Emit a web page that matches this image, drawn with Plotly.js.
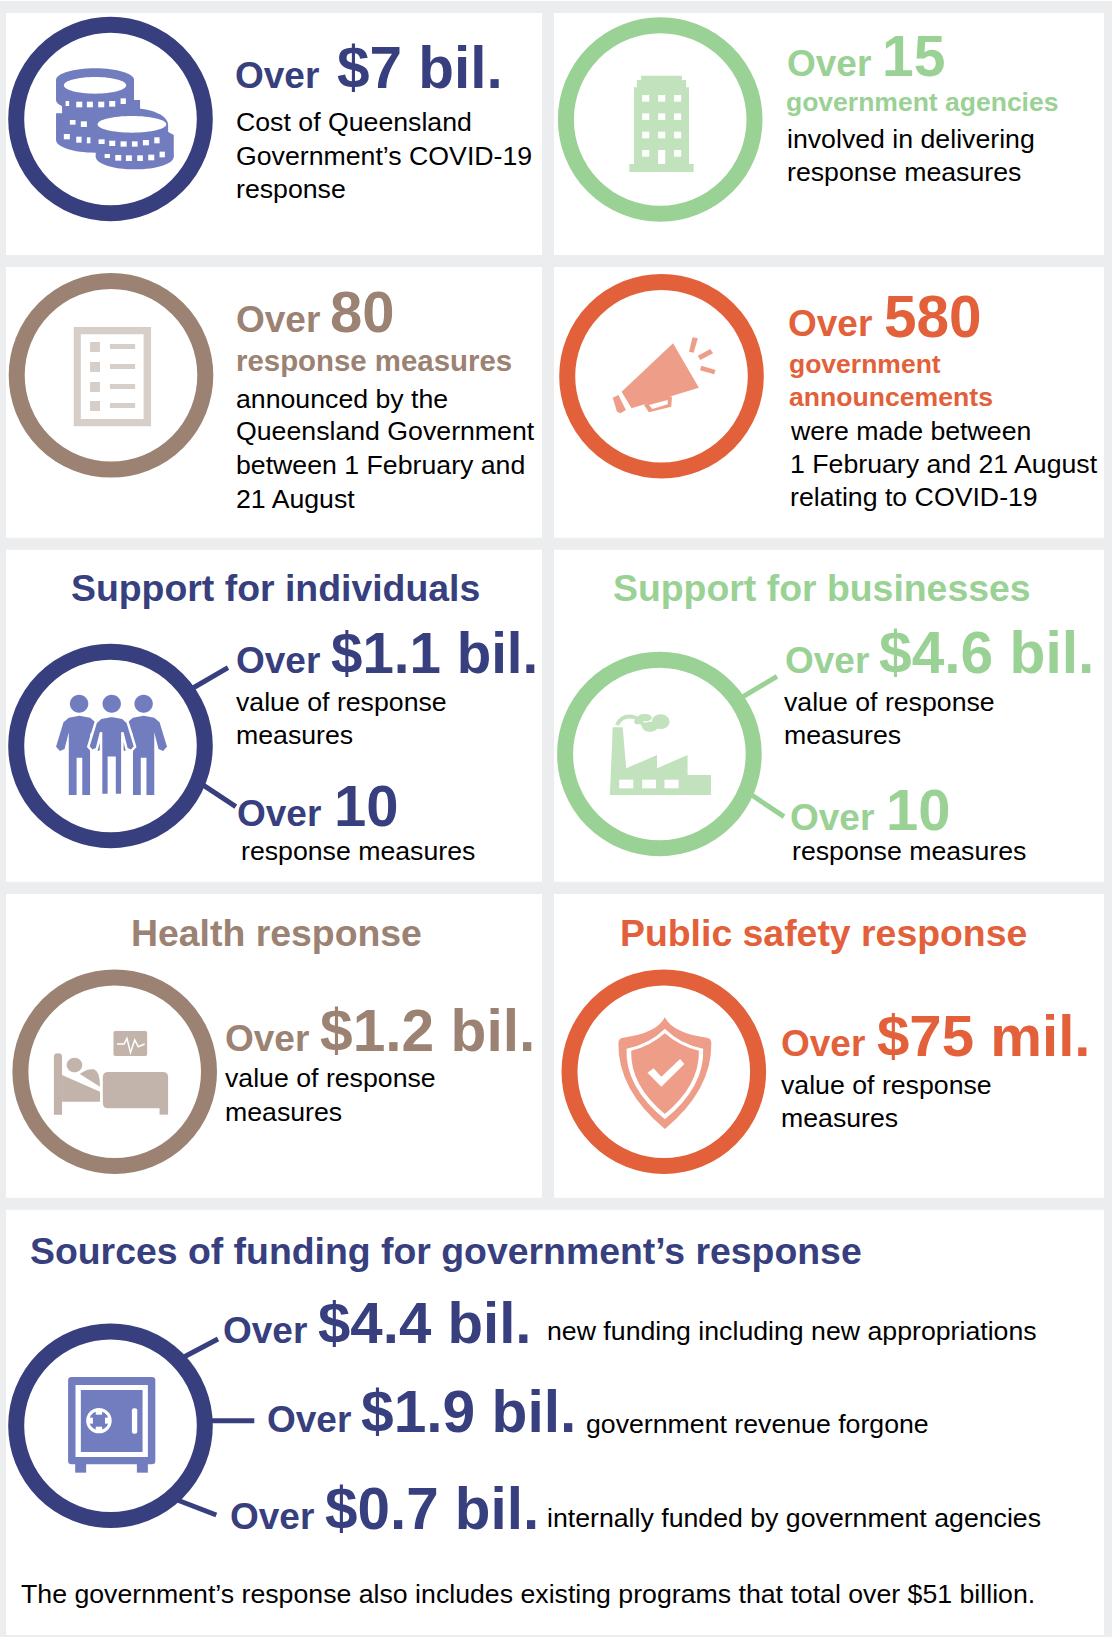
<!DOCTYPE html>
<html><head><meta charset="utf-8">
<script src="https://cdn.plot.ly/plotly-3.0.1.min.js"></script>
<style>html,body{margin:0;padding:0;background:#ECEDEF}#g{width:1112px;height:1637px}</style>
</head><body><div id="g"></div>
<script>
/* ---------- content ---------- */
const panelTitles = ['Support for individuals','Support for businesses','Health response','Public safety response','Sources of funding for government\u2019s response'];
const overWord = 'Over';
const headlineValues = ['$7 bil.','15','80','580','$1.1 bil.','10','$4.6 bil.','10','$1.2 bil.','$75 mil.','$4.4 bil.','$1.9 bil.','$0.7 bil.'];
const subheads = ['government agencies','response measures','government','announcements'];
const bodyLines = ['Cost of Queensland','Government\u2019s COVID-19','response',
  'involved in delivering','response measures',
  'announced by the','Queensland Government','between 1 February and','21 August',
  'were made between','1 February and 21 August','relating to COVID-19',
  'value of response','measures','response measures',
  'value of response','measures','response measures',
  'value of response','measures',
  'value of response','measures',
  'new funding including new appropriations','government revenue forgone','internally funded by government agencies',
  'The government\u2019s response also includes existing programs that total over $51 billion.'];

/* ---------- layout tables ---------- */
const NAVY='#373F7E',GREEN='#9AD194',BROWN='#9B8272',ORANGE='#E2613A';
const ICON_N='#727DC0',ICON_G='#C1E2BC',ICON_B='#C2B4AA',ICON_O='#EE9D88';
const GREY='#ECEDEF';
const headlineColours=[NAVY,GREEN,BROWN,ORANGE,NAVY,NAVY,GREEN,GREEN,BROWN,ORANGE,NAVY,NAVY,NAVY];
const overPos=[[234.8,88.7],[787.3,76],[235.9,332.7],[788,336.7],[236,673.7],[237.3,826],[784.8,673.7],[790,830.3],[225.2,1051.7],[781.2,1056.7],[223,1343.3],[266.7,1432.7],[230.2,1529.3]];
const valuePos=[[337,87.7],[882,76],[330.4,331.4],[883.8,337],[330.6,672.7],[333.8,826],[879.4,672.7],[886,829.3],[320.2,1050.7],[876.8,1055.7],[318.2,1342.3],[361,1431.7],[325.2,1528.3]];
const valueSizes=[58.5,57,58,58.5,56.5,58,58.7,58,58.7,58.2,58.2,58.7,58.4];
const titlePos=[[275.4,601,'center'],[822.3,601,'center'],[276.4,946,'center'],[823.4,946,'center'],[30.2,1264.3,'left']];
const titleColours=[NAVY,GREEN,BROWN,ORANGE,NAVY];
const subPos=[[785.5,110.7],[236.2,370.5],[789,373.3],[789,406.3]];
const subSizes=[26.5,29.4,26.5,26.6];
const subColours=[GREEN,BROWN,ORANGE,ORANGE];
const bodyPos=[[236.4,131.7],[236.4,165.7],[236.4,198],[787,148.3],[787,181],
  [236,408.7],[236,440.3],[236,474.7],[236,508.7],
  [790,440],[790,473],[790,506.7],
  [236,711.7],[236,744.7],[240.8,860.7],
  [784.2,711.7],[784.2,744.7],[791.8,860.7],
  [225.4,1087.7],[225.4,1121.7],[781.4,1094.3],[781.4,1127.7],
  [547,1340],[585.6,1433.7],[547,1527.7],[21,1603.3]];
const panels=[[6,13,542,255],[554,13,1104,255],[6,267,542,537.7],[554,267,1104,537.7],[6,549.7,542,881.7],[554,549.7,1104,881.7],[6,894,542,1197.7],[554,894,1104,1197.7],[6,1209.7,1104,1635]];
const ringX=[110.5,660.2,111,661.5,110.5,659.4,114.7,663.8,110.5];
const ringY=[119,119.5,375.3,376.2,746,754,1071.7,1071.7,1425.7];
const ringColours=[NAVY,GREEN,BROWN,ORANGE,NAVY,GREEN,BROWN,ORANGE,NAVY];
const connectors=[[193,688,228,667.7,NAVY],[204,785.7,235.8,806.7,NAVY],[743,696.7,777,676.3,GREEN],[751.7,795,784,816.7,GREEN],[184.4,1356.7,218,1339,NAVY],[211.7,1420.7,254.3,1420.7,NAVY],[177.3,1500,216.3,1515,NAVY]];

/* ---------- helpers ---------- */
const FONT='"Liberation Sans", Arial, sans-serif';
function T(text,pos,size,color,bold,anchor){
  return {xref:'x',yref:'y',x:pos[0],y:pos[1]-0.3465*size,text:text,showarrow:false,
    xanchor:anchor||'left',yanchor:'middle',borderpad:0,borderwidth:0,
    font:{family:FONT,size:size,color:color,weight:bold?700:400}};
}
const annotations=[];
overPos.forEach((p,i)=>annotations.push(T(overWord,p,37,headlineColours[i],true)));
headlineValues.forEach((v,i)=>annotations.push(T(v,valuePos[i],valueSizes[i],headlineColours[i],true)));
panelTitles.forEach((t,i)=>annotations.push(T(t,titlePos[i],37.4,titleColours[i],true,titlePos[i][2])));
subheads.forEach((t,i)=>annotations.push(T(t,subPos[i],subSizes[i],subColours[i],true)));
bodyLines.forEach((t,i)=>annotations.push(T(t,bodyPos[i],26.7,'#000000',false)));

const shapes=[];
shapes.push({type:'rect',xref:'x',yref:'y',x0:0,x1:1112,y0:0,y1:1,fillcolor:'#FFFFFF',line:{width:0},layer:'below'});
panels.forEach(p=>shapes.push({type:'rect',xref:'x',yref:'y',x0:p[0],y0:p[1],x1:p[2],y1:p[3],fillcolor:'#FFFFFF',line:{width:0},layer:'below'}));
connectors.forEach(c=>shapes.push({type:'line',xref:'x',yref:'y',x0:c[0],y0:c[1],x1:c[2],y1:c[3],line:{color:c[4],width:5},layer:'below'}));

/* icon drawing: outlines are sketched in a per-panel grid of 2.82 x 3 units per pixel */
function E(cx,cy,rx,ry){const k=.5523;
  return `M${cx-rx},${cy} C${cx-rx},${cy-k*ry} ${cx-k*rx},${cy-ry} ${cx},${cy-ry} C${cx+k*rx},${cy-ry} ${cx+rx},${cy-k*ry} ${cx+rx},${cy} C${cx+rx},${cy+k*ry} ${cx+k*rx},${cy+ry} ${cx},${cy+ry} C${cx-k*rx},${cy+ry} ${cx-rx},${cy+k*ry} ${cx-rx},${cy} Z`;}
function R(a,b,c,d){return `M${a},${b} L${c},${b} L${c},${d} L${a},${d} Z`;}
function RR(a,b,c,d,r){return `M${a+r},${b} L${c-r},${b} Q${c},${b} ${c},${b+r} L${c},${d-r} Q${c},${d} ${c-r},${d} L${a+r},${d} Q${a},${d} ${a},${d-r} L${a},${b+r} Q${a},${b} ${a+r},${b} Z`;}
function PG(pts){return 'M'+pts.map(p=>p[0]+','+p[1]).join(' L')+' Z';}
function icon(ox,oy,path,fill,stroke,sw,open){
  const d=path.replace(/(-?[\d.]+),(-?[\d.]+)/g,(m,a,b)=>(ox+a/2.82).toFixed(2)+','+(oy+b/3).toFixed(2));
  shapes.push({type:'path',xref:'x',yref:'y',path:d,fillcolor:open?'rgba(0,0,0,0)':fill,line:{color:stroke||fill,width:sw||0},layer:'above'});
}
const W='#FFFFFF';
/* coins */
(function(){const c=ICON_N;
  const f=(p,col)=>icon(0,0,p,col);
  f(E(268,420,110,38),c); f(R(158,340,378,420),c); f(R(175,300,395,360),c);
  f(E(268,240,110,35),c); f(R(158,240,378,300),c); f(E(268,300,110,35),c);
  f(E(372,375,102,50),c); f(R(270,375,474,420),c); f(PG([[455,385],[490,405],[490,470],[270,470],[270,420]]),c);
  f(E(380,470,110,38),c);
  f(E(268,256,88,25),W); f(E(372,373,97,25),W);
  [[185,303,195,318],[215,305,232,322],[245,305,262,322],[277,305,294,322],[308,303,325,320],[340,295,355,312],
   [197,360,213,374],[228,364,245,381],[180,402,197,418],[215,410,230,428],[245,412,255,430],
   [278,418,295,432],[308,422,325,438],[340,424,357,440],[372,424,388,440],[403,420,420,436],[435,412,450,430],
   [295,462,310,474],[325,465,342,482],[355,466,372,483],[387,466,403,483],[418,464,435,481],[450,455,465,472]
  ].forEach(r=>f(R(...r),W));
})();
/* building */
(function(){const o=[556,0];
  icon(o[0],o[1],PG([[240,227],[355,227],[355,240],[367,240],[367,262],[375,262],[375,492],[388,492],[388,516],[207,516],[207,492],[220,492],[220,262],[228,262],[228,240],[240,240]]),ICON_G);
  [285,340,395,450].forEach(y=>[243,288,333].forEach(x=>icon(o[0],o[1],R(x,y,x+20,(x===288&&y===450)?492:y+20),W)));
})();
/* list */
(function(){const o=[0,265],c='#D6CEC8';
  icon(o[0],o[1],R(208,186,426,484),c); icon(o[0],o[1],R(228,208,405,462),W);
  [231,291,351,408].forEach(y=>{icon(o[0],o[1],R(254,y,282,y+30),c);icon(o[0],o[1],R(310,y+6,381,y+21),c);});
})();
/* megaphone */
(function(){const o=[556,265],c=ICON_O;
  icon(o[0],o[1],PG([[248,420],[262,442],[325,425],[327,395],[300,390]]),c);
  icon(o[0],o[1],PG([[262,420],[272,432],[315,418],[315,405]]),W);
  icon(o[0],o[1],PG([[185,380],[330,235],[403,368],[213,430]]),c);
  icon(o[0],o[1],PG([[160,398],[176,390],[197,435],[182,445],[172,440]]),c);
  icon(o[0],o[1],PG([[385,217],[400,220],[388,263],[375,260]]),c);
  icon(o[0],o[1],PG([[400,272],[435,252],[443,265],[407,285]]),c);
  icon(o[0],o[1],PG([[410,302],[450,315],[446,328],[406,316]]),c);
})();
/* people */
(function(){const o=[0,545],c=ICON_N;
  const body=[[0,512],[30,518],[45,532],[66,605],[55,618],[42,612],[30,562],[30,750],[8,750],[8,638],[-8,638],[-8,750],[-30,750],[-30,562],[-42,612],[-55,618],[-66,605],[-45,532],[-30,518]];
  const fig=(cx,s,sw)=>{icon(o[0],o[1],PG(body.map(p=>[cx+p[0],p[1]])),c,s,sw);};
  fig(224,c,0);fig(405,c,0);fig(315,W,2.5);
  [223,315,405].forEach(x=>icon(o[0],o[1],E(x,476,26,27),c));
})();
/* factory */
(function(){const o=[556,545],c=ICON_G;
  icon(o[0],o[1],PG([[152,750],[160,547],[188,547],[198,670],[285,630],[285,670],[371,630],[371,690],[437,690],[437,750]]),c);
  [[178,218],[243,282],[306,346]].forEach(r=>icon(o[0],o[1],R(r[0],704,r[1],730),W));
  icon(o[0],o[1],'M172,540 Q185,510 215,515 Q235,520 250,545',c,c,4,true);
  icon(o[0],o[1],E(265,545,22,15),c);icon(o[0],o[1],E(295,530,25,22),c);icon(o[0],o[1],E(250,518,20,11),c);icon(o[0],o[1],E(232,530,12,8),c);
})();
/* bed */
(function(){const o=[0,890],c=ICON_B;
  icon(o[0],o[1],RR(320,423,415,498,5),c);
  icon(o[0],o[1],'M330,462 L350,462 L358,445 L368,488 L380,450 L390,470 L408,462',W,W,1.5,true);
  icon(o[0],o[1],'M152,674 L152,500 Q152,490 163,490 Q175,490 175,500 L175,674 Z',c);
  icon(o[0],o[1],PG([[175,555],[282,605],[282,635],[175,635]]),c);
  icon(o[0],o[1],E(210,525,22,22),c);
  icon(o[0],o[1],'M225,552 Q245,535 265,538 Q282,545 282,590 Z',c);
  icon(o[0],o[1],RR(290,546,474,655,15),c);
  icon(o[0],o[1],R(450,640,474,674),c);
})();
/* shield */
(function(){const o=[556,890],c=ICON_O;
  icon(o[0],o[1],'M307,382 Q330,430 425,443 Q438,445 438,460 Q440,600 307,717 Q174,600 176,460 Q176,445 189,443 Q284,430 307,382 Z',c);
  icon(o[0],o[1],'M307,416 Q350,462 415,476 Q420,590 307,688 Q194,590 199,476 Q264,462 307,416 Z',W);
  icon(o[0],o[1],'M307,430 Q350,470 403,482 Q405,585 307,672 Q209,585 212,482 Q264,470 307,430 Z',c);
  icon(o[0],o[1],PG([[258,548],[275,535],[297,560],[350,507],[362,522],[297,590]]),W);
})();
/* safe */
(function(){const o=[0,1205],c=ICON_N;
  icon(o[0],o[1],R(212,770,243,803),c);icon(o[0],o[1],R(386,770,417,803),c);
  icon(o[0],o[1],RR(192,516,438,778,10),c);
  icon(o[0],o[1],R(213,540,417,756),W);
  icon(o[0],o[1],R(228,555,402,741),c);
  icon(o[0],o[1],E(279,647,36,38),W);
  icon(o[0],o[1],E(279,647,27,28),c);
  icon(o[0],o[1],R(270,617,288,629),W);icon(o[0],o[1],R(270,665,288,677),W);
  icon(o[0],o[1],R(250,638,262,656),W);icon(o[0],o[1],R(296,638,308,656),W);
  icon(o[0],o[1],RR(372,610,387,686,6),W);
})();

/* ---------- figure ---------- */
const rings={type:'scatter',mode:'markers',x:ringX,y:ringY,hoverinfo:'skip',showlegend:false,cliponaxis:false,
  marker:{symbol:'circle',size:188.6,color:'#FFFFFF',line:{color:ringColours,width:16}}};
const layout={width:1112,height:1637,margin:{l:0,r:0,t:0,b:0},paper_bgcolor:GREY,plot_bgcolor:GREY,showlegend:false,
  xaxis:{range:[0,1112],visible:false,fixedrange:true},
  yaxis:{range:[1637,0],visible:false,fixedrange:true},
  shapes:shapes,annotations:annotations};
Plotly.newPlot('g',[rings],layout,{displayModeBar:false,staticPlot:true});
</script></body></html>
